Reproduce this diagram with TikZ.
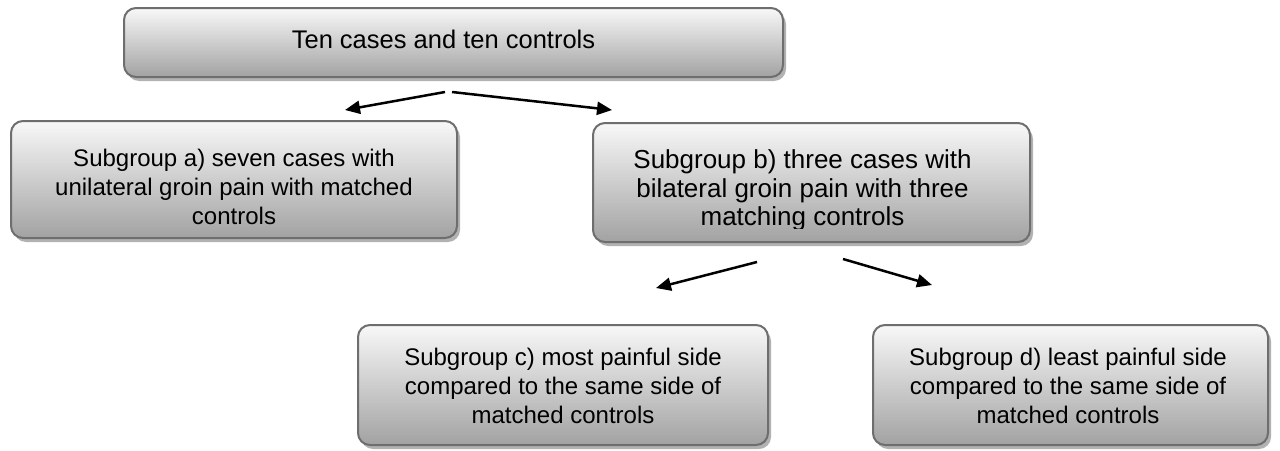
\documentclass[tikz,border=0pt]{standalone}
\usepackage{fontspec}
\setmainfont{Liberation Sans}
\usetikzlibrary{shadows,arrows.meta}
\definecolor{boxtop}{HTML}{F8F8F8}
\definecolor{boxbot}{HTML}{A2A2A2}
\definecolor{boxline}{HTML}{6E6E6E}
\definecolor{shadowc}{HTML}{B2B2B2}
\begin{document}
\begin{tikzpicture}[x=1pt,y=-1pt,
  box/.style={draw=boxline, line width=2pt, rounded corners=12pt,
    top color=boxtop, bottom color=boxbot,
    drop shadow={shadow xshift=3pt, shadow yshift=-4pt, shadow scale=1, fill=shadowc, opacity=1},
    inner sep=0pt},
  txt/.style={align=center, inner sep=0pt, font=\fontsize{24}{29}\selectfont},
  conn/.style={-{Triangle[length=15pt,width=13pt]}, line width=2.5pt}]
\useasboundingbox (0,0) rectangle (1280,450);

\node[box, minimum width=659pt, minimum height=69pt] (top) at (453.5,42.5) {};
\node[txt, font=\fontsize{25.5}{30}\selectfont] (toptext) at (443.5,39.5) {Ten cases and ten controls};

\node[box, minimum width=446pt, minimum height=117pt] (a) at (234,179.5) {};
\node[txt] (atext) at (234,187) {Subgroup a) seven cases with\\unilateral groin pain with matched\\controls};

\node[box, minimum width=437pt, minimum height=119pt] (b) at (811.5,182.5) {};
\begin{scope}
  \clip (593,123) rectangle (1030,228);
  \node[txt, font=\fontsize{26}{28.5}\selectfont] (btext) at (802.5,190.75)
    {Subgroup b) three cases with\\bilateral groin pain with three\\matching controls};
\end{scope}

\node[box, minimum width=410pt, minimum height=120pt] (c) at (563,385) {};
\node[txt] (ctext) at (563,386) {Subgroup c) most painful side\\compared to the same side of\\matched controls};

\node[box, minimum width=395pt, minimum height=120pt] (d) at (1070.5,385) {};
\node[txt] (dtext) at (1068,386) {Subgroup d) least painful side\\compared to the same side of\\matched controls};

\coordinate (t1) at (445,92);  \coordinate (t1e) at (345,110);
\coordinate (t2) at (452,92);  \coordinate (t2e) at (612,110);
\coordinate (b1) at (757,262); \coordinate (b1e) at (656,288);
\coordinate (b2) at (843,259); \coordinate (b2e) at (932,285);
\draw[conn] (t1) -- (t1e);
\draw[conn] (t2) -- (t2e);
\draw[conn] (b1) -- (b1e);
\draw[conn] (b2) -- (b2e);
\end{tikzpicture}
\end{document}
